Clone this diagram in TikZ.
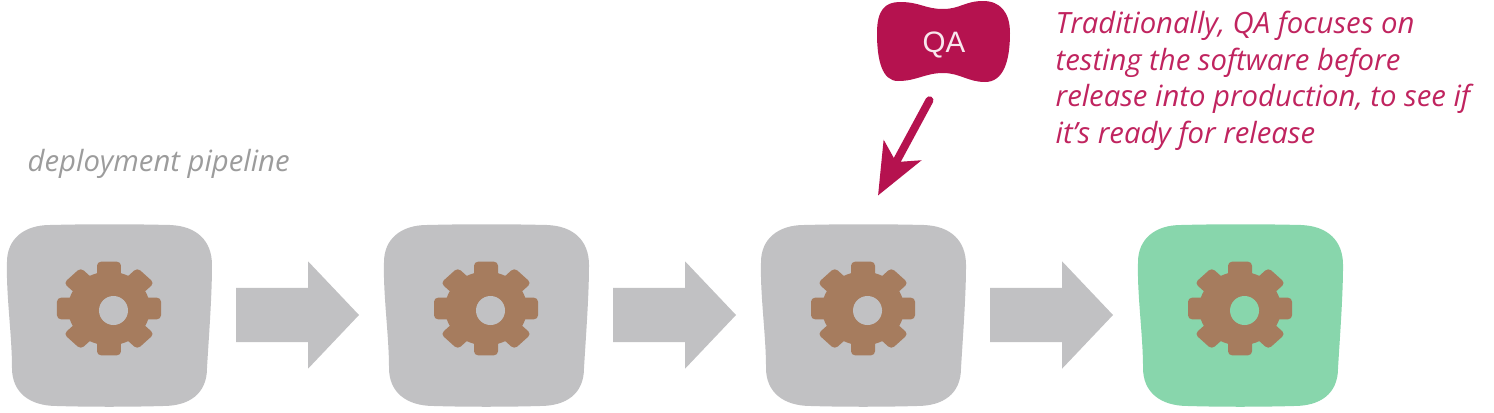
\documentclass[tikz,border=0pt]{standalone}
\usepackage{fontspec}
\setmainfont{Open Sans}
\newfontfamily\labelfont{Liberation Sans}
\usepackage{xcolor}
\usetikzlibrary{arrows.meta,positioning,shapes.arrows}
\definecolor{stagegray}{HTML}{C1C1C3}
\definecolor{stagegreen}{HTML}{88D6AC}
\definecolor{gearbrown}{HTML}{A67C5E}
\definecolor{qared}{HTML}{B5124F}
\definecolor{qatext}{HTML}{C0245F}
\definecolor{notegray}{HTML}{9C9C9C}
\newcommand{\stageoutline}{(-1.02,0.53) .. controls (-1.02,0.76) and (-0.85,0.90) .. (-0.59,0.90)
  .. controls (-0.2,0.91) and (0.2,0.91) .. (0.61,0.90) .. controls (0.88,0.89) and (1.03,0.74) .. (1.03,0.50)
  .. controls (1.03,0.2) and (1.0,-0.2) .. (0.98,-0.53) .. controls (0.98,-0.79) and (0.8,-0.91) .. (0.54,-0.91)
  .. controls (0.2,-0.92) and (-0.2,-0.92) .. (-0.52,-0.91) .. controls (-0.8,-0.91) and (-0.97,-0.77) .. (-0.97,-0.53)
  .. controls (-0.97,-0.2) and (-1.03,0.2) .. cycle}
\tikzset{
  stagebox/.style={minimum width=2.05cm,minimum height=1.81cm,inner sep=0pt,outer sep=0pt},
  flowarrow/.style={single arrow,fill=stagegray,inner xsep=0pt,inner ysep=0.265cm,outer sep=0pt,minimum height=1.23cm,minimum width=1.06cm,
    single arrow head extend=0.265cm,single arrow tip angle=93},
  qaarrow/.style={line width=0.8mm,line cap=round,qared,-{Stealth[length=5.1mm,width=4.2mm,inset=1.3mm]}},
  notetext/.style={font=\fontsize{8.33}{10.5}\selectfont\itshape,align=left,inner sep=0pt}
}
\begin{document}
\begin{tikzpicture}[node distance=0.245cm]
\useasboundingbox (0,0) rectangle (14.94,4.12);
\node[stagebox] (stagea) at (1.09,0.97) {};
\node[flowarrow,right=of stagea] (arrowa) {};
\node[stagebox,right=of arrowa] (stageb) {};
\node[flowarrow,right=of stageb] (arrowb) {};
\node[stagebox,right=of arrowb] (stagec) {};
\node[flowarrow,right=of stagec] (arrowc) {};
\node[stagebox,right=of arrowc] (staged) {};
\foreach \stg/\col in {stagea/stagegray,stageb/stagegray,stagec/stagegray,staged/stagegreen} {
  \begin{scope}[shift={(\stg.center)}]
    \fill[\col] \stageoutline;
    \begin{scope}[shift={(0,0.065)},yscale=0.9]
      \fill[gearbrown] (0,0) circle (0.41);
      \foreach \ang in {0,45,...,315}
        \fill[gearbrown,rotate=\ang,rounded corners=0.04cm] (-0.12,0.2) rectangle (0.12,0.52);
    \end{scope}
    \fill[\col] (0.045,0.045) circle (0.145);
  \end{scope}
}
% QA blob
\fill[qared] (8.77,3.79) .. controls (8.77,4.02) and (8.85,4.10) .. (9.00,4.10)
  .. controls (9.20,4.10) and (9.25,4.03) .. (9.43,4.03) .. controls (9.60,4.03) and (9.65,4.11) .. (9.83,4.11)
  .. controls (10.00,4.11) and (10.10,4.00) .. (10.10,3.79) .. controls (10.10,3.52) and (10.04,3.30) .. (9.85,3.30)
  .. controls (9.68,3.30) and (9.60,3.39) .. (9.43,3.39) .. controls (9.25,3.39) and (9.17,3.31) .. (8.98,3.31)
  .. controls (8.82,3.31) and (8.77,3.52) .. cycle;
\node[minimum width=1.3cm,minimum height=0.74cm,inner sep=0pt,text=white!90!qared,font=\labelfont\fontsize{8.4}{10}\selectfont] (qa) at (9.44,3.67) {QA};
\coordinate (qatip) at ([xshift=0.15cm,yshift=0.29cm]stagec.north);
\draw[qaarrow,shorten <=0.2cm] ([xshift=-0.05cm]qa.south) -- (qatip);
\node[notetext,text=qatext,anchor=north west] (qanote) at (10.55,4.02)
  {Traditionally, QA focuses on\\testing the software before\\release into production, to see if\\it’s ready for release};
\node[notetext,text=notegray,anchor=west] (pipeline) at (0.27,2.485) {deployment pipeline};
\end{tikzpicture}
\end{document}
